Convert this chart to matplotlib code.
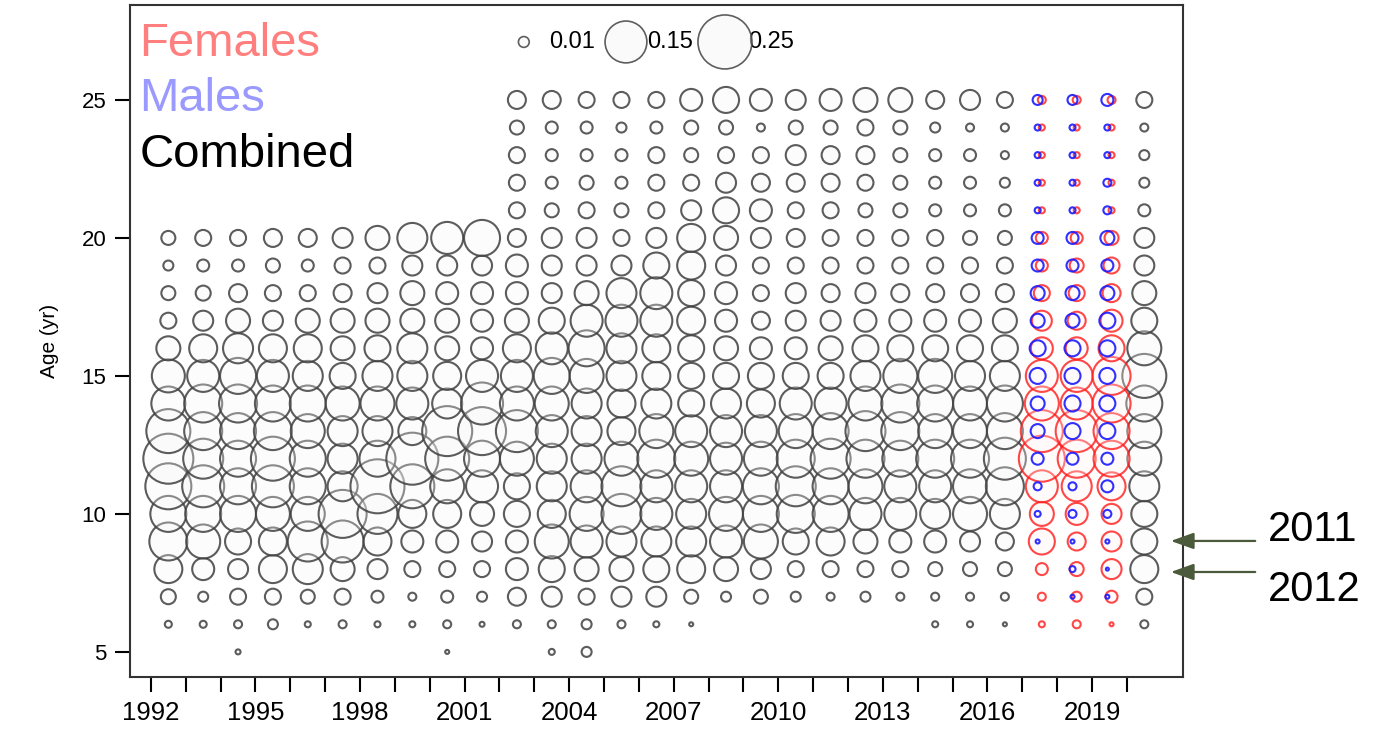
import numpy as np
import matplotlib
matplotlib.use("Agg")
import matplotlib.pyplot as plt

plt.rcParams["font.family"] = ["Liberation Sans", "DejaVu Sans"]

# ages 5..25; bubble size index (radius scale, 27 == proportion 0.25), 0 = no data
ages = np.arange(5, 26)
years = np.arange(1992, 2021)

combined = {
    1992: [0, 3.5, 7.5, 14, 19, 18, 23, 25, 22, 17, 16.5, 12, 8, 7, 5, 7, 0, 0, 0, 0, 0],
    1993: [0, 3.5, 5, 11, 17, 18, 21, 20, 19, 19, 16, 14, 10, 7.5, 6, 8, 0, 0, 0, 0, 0],
    1994: [2.5, 4, 8, 10, 13, 18, 18, 18, 18, 19, 18, 15, 12, 9, 6, 8, 0, 0, 0, 0, 0],
    1995: [0, 5, 8, 14, 14, 17, 21, 22, 19, 18, 16, 14, 10, 8, 7, 9, 0, 0, 0, 0, 0],
    1996: [0, 3, 7, 15, 20, 17, 18, 18, 17, 18, 15, 14, 12, 8, 6, 9, 0, 0, 0, 0, 0],
    1997: [0, 4, 8, 12, 21, 24, 15, 15, 15, 17, 13, 12, 12, 9, 8, 10, 0, 0, 0, 0, 0],
    1998: [0, 3, 6, 10, 14, 20, 27, 18, 15, 17, 15, 13, 12, 10, 8, 12, 0, 0, 0, 0, 0],
    1999: [0, 3, 4, 8, 11, 14, 22, 26, 14, 16, 15, 15, 12, 12, 10, 15, 0, 0, 0, 0, 0],
    2000: [2, 4, 6, 8, 11, 14, 17, 22, 25, 15, 14, 12, 12, 11, 10, 16, 0, 0, 0, 0, 0],
    2001: [0, 2.5, 5, 8, 10, 12, 16, 18, 24, 21, 16, 11, 11, 11, 10, 18, 0, 0, 0, 0, 0],
    2002: [0, 4, 9, 11, 11, 13, 13, 17, 21, 17, 16, 14, 12, 11, 11, 9, 8, 8, 8, 7, 9],
    2003: [3, 4, 10, 13, 17, 14, 15, 15, 16, 17, 18, 16, 13, 10, 10, 10, 7, 6, 6, 6, 9],
    2004: [5, 5, 8, 12, 16, 17, 16, 15, 15, 15, 17, 18, 16, 12, 10, 10, 8, 7, 6, 6, 8],
    2005: [0, 4, 10, 12, 15, 20, 20, 17, 14, 14, 15, 15, 16, 15, 10, 8, 7, 6, 6, 5, 8],
    2006: [0, 3, 10, 13, 15, 16, 16, 19, 17, 15, 14, 14, 16, 16, 13, 10, 8, 8, 8, 6, 8],
    2007: [0, 2, 7, 14, 15, 15, 16, 17, 16, 13, 13, 13, 14, 13, 14, 14, 10, 8, 7, 7, 11],
    2008: [0, 0, 5, 12, 16, 17, 16, 16, 16, 15, 13, 12, 11, 11, 10, 12, 13, 10, 8, 7, 13],
    2009: [0, 0, 7, 10, 17, 18, 18, 17, 16, 14, 13, 11, 9, 8, 8, 10, 11, 9, 8, 4, 11],
    2010: [0, 0, 5, 8, 13, 19, 20, 19, 17, 16, 13, 11, 10, 10, 8, 9, 8, 9, 10, 7, 10],
    2011: [0, 0, 4, 8, 14, 18, 18, 20, 18, 16, 13, 12, 10, 9, 8, 8, 8, 9, 9, 7, 11],
    2012: [0, 0, 5, 8, 12, 16, 17, 19, 20, 17, 15, 13, 11, 10, 8, 8, 7, 8, 9, 8, 12],
    2013: [0, 0, 4, 8, 11, 16, 16, 18, 19, 19, 17, 13, 11, 9, 8, 8, 7, 7, 7, 7, 12],
    2014: [0, 3, 4, 7, 11, 15, 16, 19, 17, 18, 17, 13, 11, 9, 8, 8, 6, 6, 6, 5, 9],
    2015: [0, 3, 4, 7, 10, 17, 17, 19, 17, 17, 15, 13, 11, 9, 8, 7, 6, 6, 6, 4, 10],
    2016: [0, 2, 4, 7, 9, 15, 19, 21, 18, 18, 15, 13, 12, 9, 8, 7, 6, 5, 4, 4, 8],
    2020: [0, 4, 8, 14, 13, 13, 15, 17, 17, 18, 22, 17, 13, 12, 10, 10, 6, 5, 5, 4, 8],
}

sex_years = [2017, 2018, 2019]
females = {
    2017: [0, 3, 4, 6, 13, 12, 16, 23, 21, 17, 16, 11, 10, 8, 6, 6, 3, 3, 3, 3, 4],
    2018: [0, 4, 5, 7, 9, 11, 15, 19, 21, 16, 16, 11, 9, 8, 7, 6, 3, 3, 3, 3, 4],
    2019: [0, 2, 6, 10, 10, 10, 14, 18, 18, 19, 19, 13, 11, 9, 8, 7, 3, 3, 3, 3, 4],
}
males = {
    2017: [0, 0, 0, 0, 2, 3, 4, 6, 7, 7, 8, 8, 7, 7, 6, 6, 3, 3, 3, 3, 5],
    2018: [0, 0, 2, 3, 2, 4, 4, 6, 8, 8, 8, 8, 7, 7, 6, 6, 3, 3, 3, 3, 5],
    2019: [0, 0, 2, 1.5, 2, 4, 6, 6, 8, 8, 8, 8, 8, 7, 6, 7, 4, 4, 3, 3, 6],
}

legend_props = [0.01, 0.15, 0.25]


def to_prop(v):
    v = np.asarray(v, dtype=float)
    return 0.25 * (v / 27.0) ** 2


K = 6048  # marker area (pt^2) per unit proportion

fig = plt.figure(figsize=(13.84, 7.39), dpi=100)
ax = fig.add_axes([130 / 1384, 1 - 677 / 739, (1183 - 130) / 1384, (677 - 5) / 739])
ax.set_facecolor("white")

for yr, vals in combined.items():
    p = to_prop(vals)
    m = p > 0
    ax.scatter(np.full(m.sum(), yr + 0.5), ages[m], s=p[m] * K,
               facecolors=(0.97, 0.97, 0.97, 0.3), edgecolors=(0.25, 0.25, 0.25, 0.85),
               linewidths=1.5, zorder=2)

for yr in sex_years:
    pf = to_prop(females[yr])
    pm = to_prop(males[yr])
    mf, mm = pf > 0, pm > 0
    ax.scatter(np.full(mf.sum(), yr + 0.56), ages[mf], s=pf[mf] * K,
               facecolors=(1, 0.96, 0.96, 0.3), edgecolors=(1, 0.1, 0.1, 0.8),
               linewidths=1.5, zorder=2)
    ax.scatter(np.full(mm.sum(), yr + 0.44), ages[mm], s=pm[mm] * K,
               facecolors="none", edgecolors=(0.1, 0.1, 1, 0.9),
               linewidths=1.5, zorder=3)

# size legend across the top
lx = [0.374, 0.471, 0.565]
ax.scatter(lx, [0.945] * 3, s=np.array(legend_props) * K, transform=ax.transAxes,
           facecolors=(0.97, 0.97, 0.97, 0.5), edgecolors=(0.3, 0.3, 0.3, 0.9),
           linewidths=1.2, zorder=4, clip_on=False)
for x, dx, v in zip(lx, [0.024, 0.02, 0.022], legend_props):
    ax.text(x + dx, 0.945, f"{v:.2f}", transform=ax.transAxes,
            va="center", ha="left", fontsize=17)

ax.text(0.009, 0.975, "Females", color="#ff7f7f", fontsize=34, transform=ax.transAxes, va="top")
ax.text(0.009, 0.893, "Males", color="#9999ff", fontsize=34, transform=ax.transAxes, va="top")
ax.text(0.009, 0.81, "Combined", color="black", fontsize=34, transform=ax.transAxes, va="top")

ax.set_xlim(1991.40, 2021.61)
ax.set_ylim(4.09, 28.44)
ax.set_xticks(years)
ax.set_xticklabels([str(y) if (y - 1992) % 3 == 0 else "" for y in years])
ax.set_yticks([5, 10, 15, 20, 25])
ax.tick_params(axis="both", direction="out", length=11, width=1.5, labelsize=18.5, pad=6)
ax.tick_params(axis="y", labelsize=16)
for s in ax.spines.values():
    s.set_linewidth(1.5)
    s.set_color("#333333")
ax.set_ylabel("Age (yr)", fontsize=15, labelpad=16)

# annotation arrows on the right
for y_t, y_a, lab in [(0.283, 0.268, "2011"), (0.202, 0.226, "2012")]:
    fig.patches.append(matplotlib.patches.FancyArrowPatch(
        (1258 / 1384, y_a), (1168 / 1384, y_a), transform=fig.transFigure,
        arrowstyle="-|>,head_length=14,head_width=5", color="#4a5a3a", lw=1.6))
    fig.text(1268 / 1384, y_t, lab, fontsize=30, va="center", ha="left")

fig.savefig("out.png", dpi=100)
